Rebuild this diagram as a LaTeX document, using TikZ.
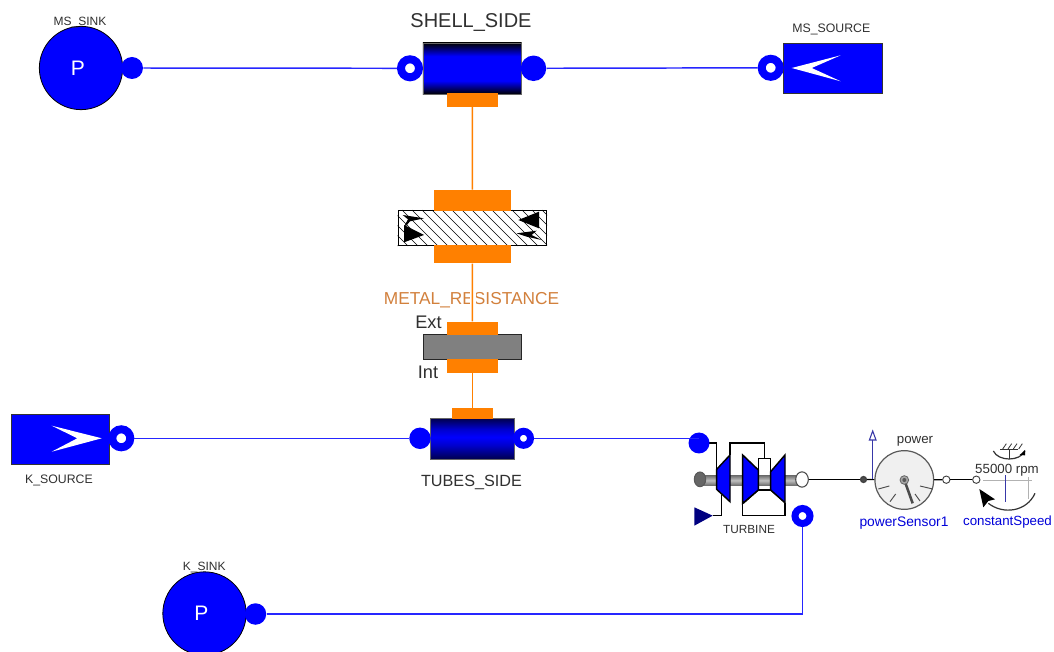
\documentclass[tikz,border=0pt]{standalone}
\usepackage{fontspec}
\setmainfont{Liberation Sans}
\usetikzlibrary{calc,shapes.geometric}
\pgfdeclareverticalshading{pipeA}{100bp}{color(0bp)=(black);color(25bp)=(black);color(38bp)=(blue);color(62bp)=(blue);color(75bp)=(black);color(100bp)=(black)}
\pgfdeclareverticalshading{pipeB}{100bp}{color(0bp)=(black);color(25bp)=(black!70!blue);color(42bp)=(blue!80!black);color(52bp)=(blue);color(62bp)=(blue!80!black);color(75bp)=(black!70!blue);color(100bp)=(black)}
\pgfdeclareverticalshading{shaftS}{100bp}{color(0bp)=(black!55);color(25bp)=(black!55);color(50bp)=(black!25);color(75bp)=(black!55);color(100bp)=(black!55)}
\newcommand{\pxfont}[1]{\fontsize{\the\dimexpr#1pt*3/4\relax}{\the\dimexpr#1pt\relax}\selectfont}
\newcommand{\sinkP}{\hspace*{-4.5pt}\raisebox{-1.5pt}{P}}
\definecolor{orangeC}{HTML}{FF8000}
\definecolor{labelO}{HTML}{D2803C}
\definecolor{labelD}{HTML}{303030}
\definecolor{navyT}{HTML}{000080}
\definecolor{gaugeF}{HTML}{F0F0F0}
\definecolor{sigblue}{HTML}{3838A8}
\tikzset{
  x=0.75pt,y=-0.75pt,
  disc/.style={circle,fill=blue,inner sep=0pt,minimum size=#1*0.75pt},
  ring/.style 2 args={circle,draw=blue,fill=white,inner sep=0pt,line width={(#1-#2)*0.375pt},minimum size={(#1+#2)*0.375pt}},
  sink/.style={circle,draw=black,line width=0.6pt,fill=blue,text=white,inner sep=0pt,minimum size=62.5pt,font=\pxfont{21}},
  boxb/.style={rectangle,draw=black!80,line width=0.6pt,fill=blue,inner sep=0pt,minimum width=74pt,minimum height=37.5pt},
  bar/.style={rectangle,fill=orangeC,inner sep=0pt},
  blueline/.style={draw=blue!85!white,line width=1.1pt},
  oline/.style={draw=orangeC,line width=1.1pt},
  bline/.style={draw=black,line width=0.9pt},
  lbl/.style={text=labelD,inner sep=0pt},
  sm/.style={circle,draw=black!75,line width=0.7pt,inner sep=0pt,minimum size=5.5pt},
  turb/.style={draw=black,line width=1.1pt,line join=miter},
}
\begin{document}
\begin{tikzpicture}
\path[use as bounding box,clip] (0,0) rectangle (1054,652);
\fill[white] (0,0) rectangle (1054,652);

% MS sink
\node[sink] (mssink) at (81,68) {\sinkP};
\node[disc=22] (mssinkP) at (132,68) {};
\node[lbl,font=\pxfont{12}] (mssinkL) at (80,23) {MS\_SINK};

% Shell side
\node[rectangle,draw=black!60,line width=0.4pt,shading=pipeA,inner sep=0pt,minimum width=74pt,minimum height=38.5pt] (shell) at (472.3,68.5) {};
\node[bar,minimum width=38.5pt,minimum height=10pt] (shellB) at (472.3,100) {};
\node[ring={26}{10}] (shellL) at (410,68.3) {};
\node[disc=25.5] (shellR) at (533.5,68.3) {};
\node[lbl,font=\pxfont{20}] (shellT) at (471,22.5) {SHELL\_SIDE};

% MS source
\node[boxb] (mssrc) at (832.7,68.3) {};
\node[ring={26}{10}] (mssrcP) at (770.7,67.8) {};
\fill[white] (791.7,68) -- (840.7,55.3) -- (811.7,68) -- (840.7,81.3) -- cycle;
\node[lbl,font=\pxfont{12.3}] (mssrcL) at (831.3,29.7) {MS\_SOURCE};

% Thermal resistance
\node[rectangle,draw=black,line width=0.7pt,fill=white,inner sep=0pt,minimum width=111.5pt,minimum height=26.7pt] (res) at (472.3,227.8) {};
\begin{scope}
\clip (res.south west) rectangle (res.north east);
\foreach \i in {0,...,20} {
  \draw[black,line width=0.45pt] ({362+\i*10},210) -- ({398+\i*10},246);
}
\end{scope}
\node[bar,minimum width=57.3pt,minimum height=15.5pt] (resT) at (472.5,200.3) {};
\node[bar,minimum width=57.3pt,minimum height=13.7pt] (resB) at (472.5,254.2) {};
\begin{scope}[shift={(380,180)},x=0.25pt,y=-0.25pt]
  \fill[black] (72,135) -- (132,165) -- (72,187) -- cycle;
  \fill[black] (68,105) -- (132,115) -- (90,124) -- (78,138) -- (74,136) -- (84,118) -- cycle;
  \fill[black] (415,120) -- (477,95) -- (477,145) -- cycle;
  \fill[black] (410,160) -- (470,152) -- (455,165) -- (485,180) -- (440,170) -- cycle;
\end{scope}

% METAL label
\node[text=labelO,inner sep=0pt,font=\pxfont{17.3}] (metalL) at (471.5,300) {METAL\_RESISTANCE};
\fill[white] (469.5,288) rectangle (476,310);

% Wall
\node[rectangle,draw=black!85,line width=0.7pt,fill=black!50,inner sep=0pt,minimum width=73.5pt,minimum height=18.7pt] (wall) at (472.3,347.2) {};
\node[bar,minimum width=38.5pt,minimum height=10pt] (wallT) at (472.3,328.4) {};
\node[bar,minimum width=38.5pt,minimum height=10pt] (wallB) at (472.3,366) {};
\node[lbl,font=\pxfont{18.2}] (extL) at (428.5,322) {Ext};
\node[lbl,font=\pxfont{18.2}] (intL) at (428,372) {Int};

% Tubes side
\node[rectangle,draw=black!60,line width=0.4pt,shading=pipeB,inner sep=0pt,minimum width=63pt,minimum height=30.7pt] (tubes) at (472.3,438.8) {};
\node[bar,minimum width=31pt,minimum height=8.2pt] (tubesB) at (472.3,413.8) {};
\node[disc=21.5] (tubesL) at (420,438.3) {};
\node[ring={21}{7}] (tubesR) at (523.5,438.3) {};
\node[lbl,font=\pxfont{16.2}] (tubesT) at (471.5,482) {TUBES\_SIDE};

% K source
\node[boxb] (ksrc) at (60.3,439) {};
\node[ring={26}{10}] (ksrcP) at (121.3,438.3) {};
\fill[white] (51.7,425.7) -- (101.7,438.3) -- (51.7,451.7) -- (77.3,438.3) -- cycle;
\node[lbl,font=\pxfont{12.3}] (ksrcL) at (59,480.5) {K\_SOURCE};

% K sink
\node[sink] (ksink) at (204.5,613.5) {\sinkP};
\node[disc=21.5] (ksinkP) at (255.5,614) {};
\node[lbl,font=\pxfont{12}] (ksinkL) at (204.3,568) {K\_SINK};

% Turbine
\begin{scope}[shift={(680,410)},x=0.25pt,y=-0.25pt]
  \draw[turb] (85,99) -- (110,99) -- (110,180);
  \draw[turb] (150,135) -- (150,99) -- (253,99) -- (253,145);
  \draw[turb] (125,255) -- (125,317) -- (98,317);
  \draw[turb] (188,280) -- (188,317) -- (315,317);
  \draw[turb] (315,278) -- (315,317);
  \draw[turb,fill=white] (235,145) rectangle (272,240);
  \draw[turb,line width=0.9pt] (235,240) -- (190,280);
  \draw[turb,line width=0.9pt] (272,240) -- (315,278);
  \fill[shading=shaftS] (60,197) rectangle (365,225);
  \draw[draw=black!65,line width=0.8pt,fill=black!60] (60,208) ellipse [x radius=17,y radius=22];
  \draw[turb,fill=blue] (110,178) -- (150,135) -- (150,275) -- (110,238) -- cycle;
  \draw[turb,fill=blue] (188,135) -- (235,180) -- (235,240) -- (188,280) -- cycle;
  \draw[turb,fill=blue] (272,185) -- (315,135) -- (315,278) -- (272,240) -- cycle;
  \fill[navyT] (43,292) -- (98,317) -- (43,347) -- cycle;
\end{scope}
\node[disc=21] (turbIn) at (699,443) {};
\node[ring={22}{8}] (turbOut) at (802.5,516) {};
\node[ellipse,draw=black!70,line width=0.8pt,fill=white,inner sep=0pt,minimum width=9.5pt,minimum height=11.5pt] (turbShaft) at (802,479.5) {};
\node[lbl,font=\pxfont{11.8}] (turbL) at (749,529) {TURBINE};

% Power sensor
\node[circle,draw=black!75,line width=0.9pt,fill=black!70,inner sep=0pt,minimum size=4.5pt] (psIn) at (863.5,479.5) {};
\node[circle,draw=black!65,line width=0.9pt,fill=gaugeF,inner sep=0pt,minimum size=44pt] (gauge) at (904.3,480) {};
\node[sm,fill=white] (psOut) at (946.3,479.7) {};
\node[sm,fill=white] (speedIn) at (976.3,479.7) {};
\coordinate (psSigBase) at (872.7,479.5);
\begin{scope}[shift={(850,420)},x=0.25pt,y=-0.25pt]
  \draw[black!70,line width=0.7pt] (85,207) -- (118,198);
  \draw[black!70,line width=0.7pt] (120,245) -- (137,222);
  \draw[black!70,line width=0.7pt] (210,243) -- (195,222);
  \draw[black!70,line width=0.7pt] (248,207) -- (210,198);
  \draw[black!70,line width=1.9pt] (163,180) -- (188,250);
  \draw[black!60,line width=0.6pt,fill=black!35] (163,180) circle (13);
  \fill[black!65] (163,180) circle (6);
  % constant speed
  \draw[black!30,line width=0.7pt] (400,180) -- (545,180);
  \draw[black!30,line width=0.7pt] (535,172) -- (535,238);
  \draw[sigblue,line width=0.9pt] (467,165) -- (467,245);
  \draw[black!80,line width=0.9pt] (555,220) .. controls (530,275) and (460,285) .. (415,250);
  \fill[black] (388,207) -- (435,238) -- (415,243) -- (400,262) -- cycle;
  \draw[black!80,line width=0.9pt] (430,93) .. controls (445,125) and (510,125) .. (525,93);
  \draw[black!80,line width=0.7pt] (450,87) -- (505,87);
  \draw[black!80,line width=0.7pt] (478,87) -- (478,118);
  \foreach \hx in {458,474,490,506} { \draw[black!80,line width=0.6pt] (\hx,87) -- (\hx+11,71); }
  \fill[black] (509,105) -- (525,90) -- (525,106) -- cycle;
\end{scope}
\node[lbl,font=\pxfont{13.3}] (powerL) at (915,441) {power};
\node[lbl,font=\pxfont{13.3}] (speedT) at (1007,470) {55000 rpm};
\node[text=blue!85!black,inner sep=0pt,font=\pxfont{13.8}] (psL) at (904,523) {powerSensor1};
\node[text=blue!85!black,inner sep=0pt,font=\pxfont{13.3}] (csL) at (1007.5,522) {constantSpeed};
\coordinate (sigTop) at (872.7,437);
\draw[sigblue,line width=0.9pt] (psSigBase) -- (sigTop);
\draw[sigblue,line width=0.8pt,fill=white] (872.7,431) -- (876,440) -- (869.4,440) -- cycle;

% Connectors
\draw[blueline] (mssinkP) -- (shellL);
\draw[blueline] (shellR) -- (mssrcP);
\draw[blueline] (ksrcP) -- (tubesL);
\draw[blueline] (tubesR) -- (tubesR -| turbIn);
\draw[blueline] (ksinkP) -| (turbOut);
\draw[oline] (shellB) -- (resT);
\draw[oline] (resB) -- (wallT);
\draw[oline] (wallB) -- (tubesB);
\draw[bline] (turbShaft) -- (psIn);
\draw[bline] (psIn) -- (gauge);
\draw[bline] (gauge) -- (psOut);
\draw[bline] (psOut) -- (speedIn);
\end{tikzpicture}
\end{document}
